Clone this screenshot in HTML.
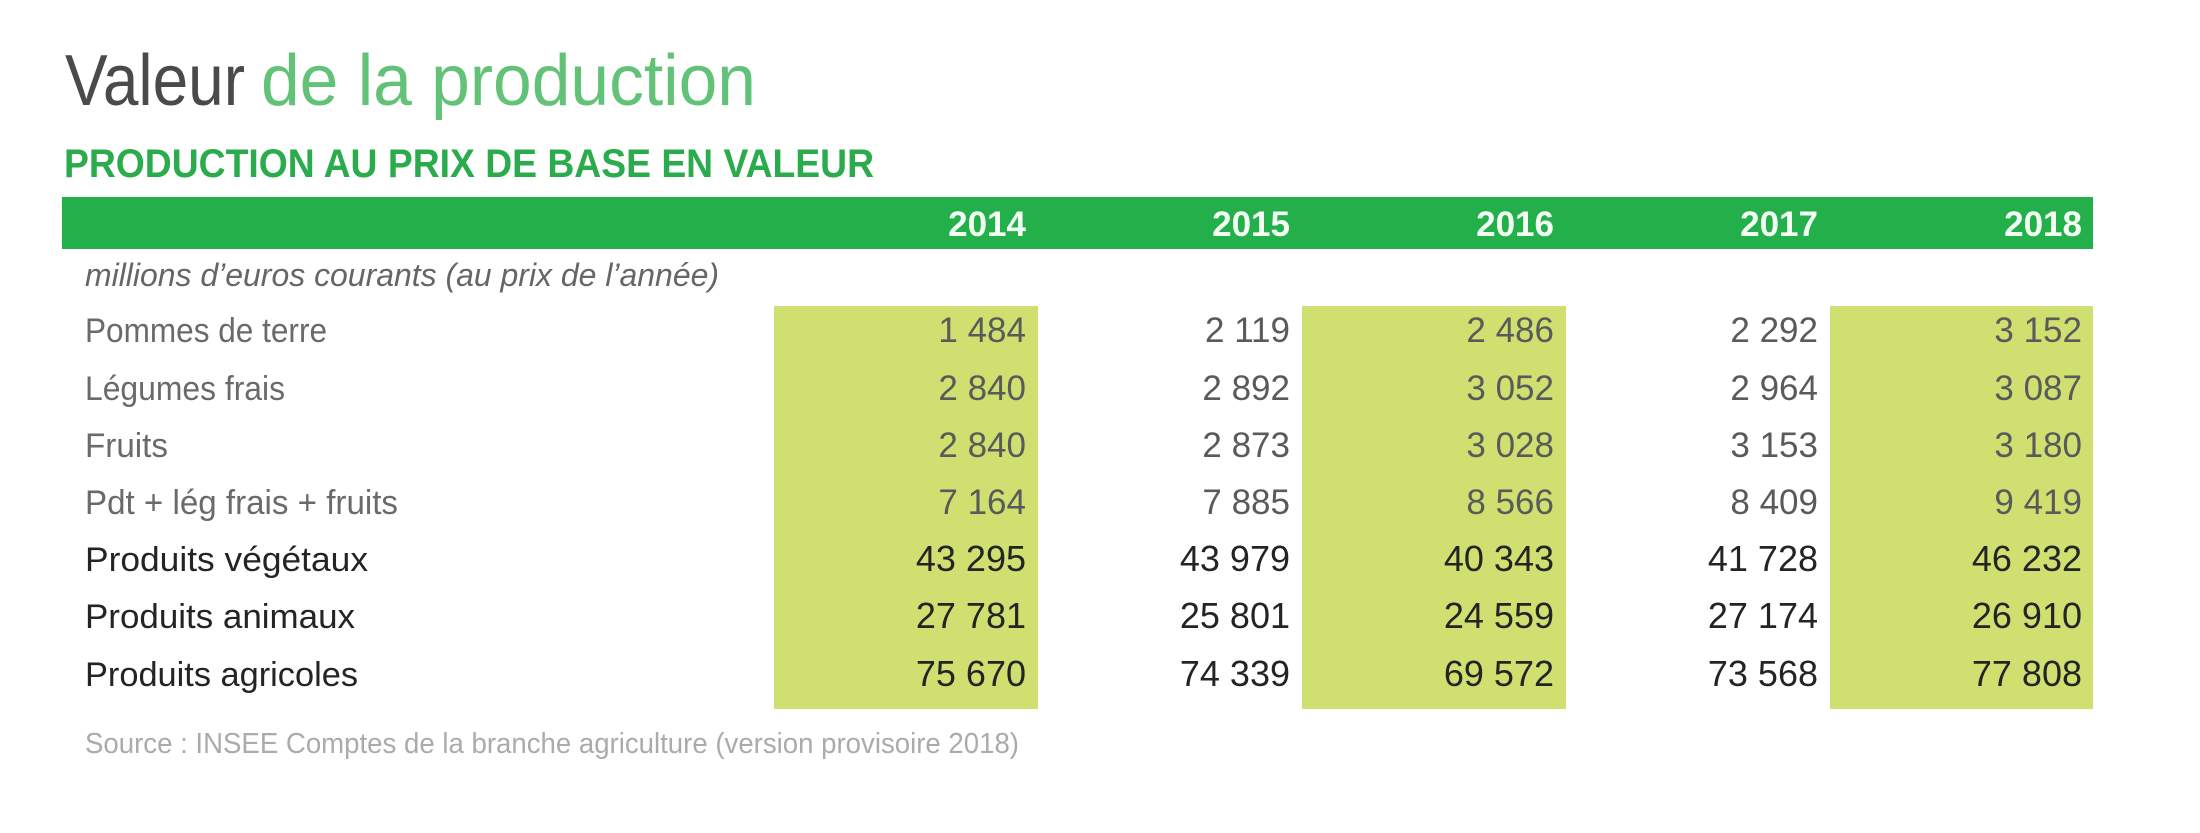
<!DOCTYPE html>
<html>
<head>
<meta charset="utf-8">
<style>
  html, body { margin: 0; padding: 0; background: #ffffff; }
  svg { display: block; }
  text { font-family: "Liberation Sans", "DejaVu Sans", sans-serif; }
</style>
</head>
<body>
<svg width="2200" height="833" viewBox="0 0 2200 833" xmlns="http://www.w3.org/2000/svg">
  <rect x="0" y="0" width="2200" height="833" fill="#ffffff"/>

  <!-- Title -->
  <text x="65" y="105" font-size="72" fill="#4a4a4a" textLength="180" lengthAdjust="spacingAndGlyphs">Valeur</text>
  <text x="261" y="105" font-size="72" fill="#62c278" textLength="495" lengthAdjust="spacingAndGlyphs">de la production</text>

  <!-- Subtitle -->
  <text x="64" y="177" font-size="40" font-weight="bold" fill="#2aab4c" textLength="810" lengthAdjust="spacingAndGlyphs">PRODUCTION AU PRIX DE BASE EN VALEUR</text>

  <!-- Header bar -->
  <rect x="62" y="197" width="2031" height="52" fill="#23b04b"/>
  <g font-size="35" font-weight="bold" fill="#f2fff2" text-anchor="end">
    <text x="1026" y="236">2014</text>
    <text x="1290" y="236">2015</text>
    <text x="1554" y="236">2016</text>
    <text x="1818" y="236">2017</text>
    <text x="2082" y="236">2018</text>
  </g>

  <!-- unit note -->
  <text x="85" y="286" font-size="32" font-style="italic" fill="#666666" textLength="634" lengthAdjust="spacingAndGlyphs">millions d’euros courants (au prix de l’année)</text>

  <!-- highlighted columns -->
  <rect x="774" y="306" width="264" height="403" fill="#cfdf70"/>
  <rect x="1302" y="306" width="264" height="403" fill="#cfdf70"/>
  <rect x="1830" y="306" width="263" height="403" fill="#cfdf70"/>

  <!-- Row labels -->
  <g font-size="34" fill="#6a6a6a">
    <text x="85" y="342" textLength="242" lengthAdjust="spacingAndGlyphs">Pommes de terre</text>
    <text x="85" y="400" textLength="200" lengthAdjust="spacingAndGlyphs">Légumes frais</text>
    <text x="85" y="457" textLength="83" lengthAdjust="spacingAndGlyphs">Fruits</text>
    <text x="85" y="514" textLength="313" lengthAdjust="spacingAndGlyphs">Pdt + lég frais + fruits</text>
  </g>
  <g font-size="34" fill="#242424">
    <text x="85" y="571" textLength="283" lengthAdjust="spacingAndGlyphs">Produits végétaux</text>
    <text x="85" y="628" textLength="270" lengthAdjust="spacingAndGlyphs">Produits animaux</text>
    <text x="85" y="686" textLength="273" lengthAdjust="spacingAndGlyphs">Produits agricoles</text>
  </g>

  <!-- Numbers: light rows -->
  <g font-size="35" fill="#5a5a5a" text-anchor="end">
    <text x="1026" y="342">1 484</text>
    <text x="1290" y="342">2 119</text>
    <text x="1554" y="342">2 486</text>
    <text x="1818" y="342">2 292</text>
    <text x="2082" y="342">3 152</text>

    <text x="1026" y="400">2 840</text>
    <text x="1290" y="400">2 892</text>
    <text x="1554" y="400">3 052</text>
    <text x="1818" y="400">2 964</text>
    <text x="2082" y="400">3 087</text>

    <text x="1026" y="457">2 840</text>
    <text x="1290" y="457">2 873</text>
    <text x="1554" y="457">3 028</text>
    <text x="1818" y="457">3 153</text>
    <text x="2082" y="457">3 180</text>

    <text x="1026" y="514">7 164</text>
    <text x="1290" y="514">7 885</text>
    <text x="1554" y="514">8 566</text>
    <text x="1818" y="514">8 409</text>
    <text x="2082" y="514">9 419</text>
  </g>

  <!-- Numbers: dark rows -->
  <g font-size="36" fill="#242424" text-anchor="end">
    <text x="1026" y="571">43 295</text>
    <text x="1290" y="571">43 979</text>
    <text x="1554" y="571">40 343</text>
    <text x="1818" y="571">41 728</text>
    <text x="2082" y="571">46 232</text>

    <text x="1026" y="628">27 781</text>
    <text x="1290" y="628">25 801</text>
    <text x="1554" y="628">24 559</text>
    <text x="1818" y="628">27 174</text>
    <text x="2082" y="628">26 910</text>

    <text x="1026" y="686">75 670</text>
    <text x="1290" y="686">74 339</text>
    <text x="1554" y="686">69 572</text>
    <text x="1818" y="686">73 568</text>
    <text x="2082" y="686">77 808</text>
  </g>

  <!-- Source -->
  <text x="85" y="753" font-size="29" fill="#ababab" textLength="934" lengthAdjust="spacingAndGlyphs">Source : INSEE Comptes de la branche agriculture (version provisoire 2018)</text>
</svg>
</body>
</html>
